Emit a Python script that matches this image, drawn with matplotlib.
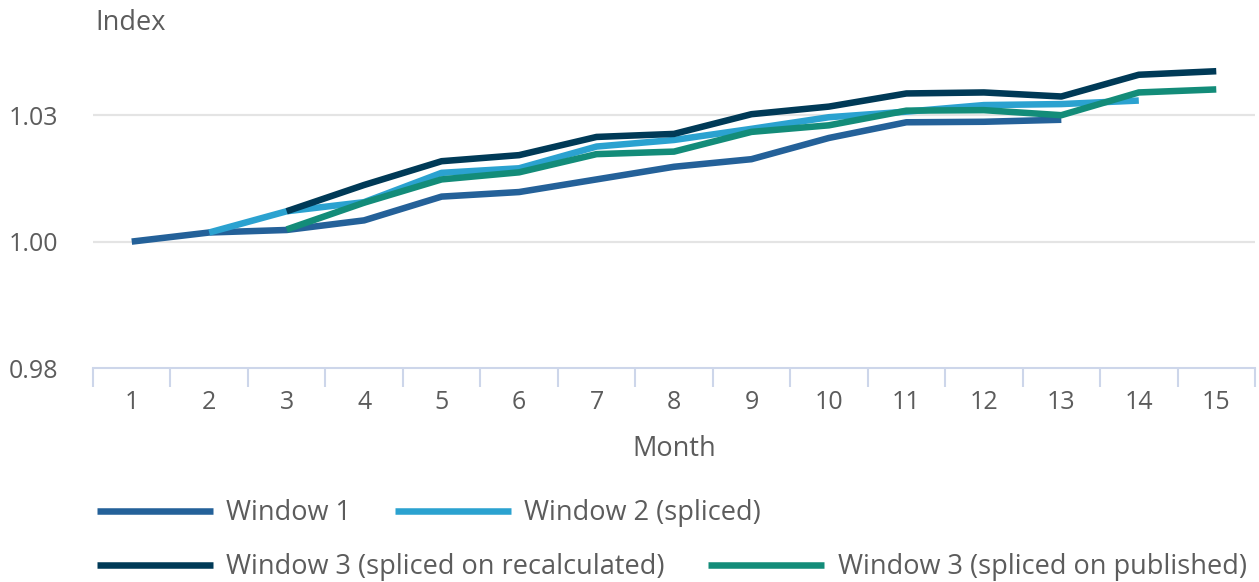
import numpy as np
import matplotlib
matplotlib.use('Agg')
import matplotlib.pyplot as plt

nan = np.nan

# data
months = list(range(1, 16))
month_labels = [str(m) for m in months]
window1 = [1.0000, 1.0018, 1.0023, 1.0042, 1.0089, 1.0098, 1.0123, 1.0148, 1.0163, 1.0205, 1.0236, 1.0237, 1.0241, nan, nan]
window2 = [nan, 1.0018, 1.0060, 1.0078, 1.0136, 1.0145, 1.0188, 1.0201, 1.0223, 1.0246, 1.0257, 1.0270, 1.0272, 1.0279, nan]
window3_recalc = [nan, nan, 1.0060, 1.0112, 1.0159, 1.0171, 1.0207, 1.0213, 1.0252, 1.0267, 1.0293, 1.0295, 1.0287, 1.0330, 1.0337]
window3_pub = [nan, nan, 1.0024, 1.0077, 1.0123, 1.0137, 1.0173, 1.0178, 1.0217, 1.0230, 1.0259, 1.0260, 1.0250, 1.0295, 1.0301]
series_names = ['Window 1', 'Window 2 (spliced)', 'Window 3 (spliced on recalculated)', 'Window 3 (spliced on published)']
y_ticks = [0.975, 1.0, 1.025]
y_tick_labels = ['0.98', '1.00', '1.03']

colors = ['#246199', '#2ba2d0', '#003a57', '#138c79']
text_color = '#5c5c5c'
axis_color = '#cdd6ea'

plt.rcParams['font.family'] = ['Open Sans', 'DejaVu Sans']
plt.rcParams['font.size'] = 18

fig = plt.figure(figsize=(12.59, 5.82), dpi=100)
ax = fig.add_axes([93/1259, 1-368/582, (1255-93)/1259, (368-52)/582])

lines = []
for vals, c, name in zip([window1, window2, window3_recalc, window3_pub], colors, series_names):
    ln, = ax.plot(months, vals, color=c, lw=4.7, solid_capstyle='butt', label=name)
    lines.append(ln)

ax.set_xlim(0.5, 15.5)
ax.set_ylim(0.975, 1.0375)

ax.set_yticks(y_ticks)
ax.set_yticklabels(y_tick_labels)
ax.tick_params(axis='y', length=0, pad=25, labelcolor=text_color, labelsize=18)
for yv in y_ticks[1:]:
    ax.axhline(yv, color='#e4e4e4', lw=1.6, zorder=0)

ax.set_xticks(months)
ax.set_xticklabels(month_labels)
ax.set_xticks(np.arange(0.5, 16, 1), minor=True)
ax.tick_params(axis='x', which='major', length=0, pad=16, labelcolor=text_color, labelsize=18)
ax.tick_params(axis='x', which='minor', length=14, width=1.5, color=axis_color, direction='out')

for s in ['top', 'right', 'left']:
    ax.spines[s].set_visible(False)
ax.spines['bottom'].set_color(axis_color)
ax.spines['bottom'].set_linewidth(1.5)

ax.set_xlabel('Month', color=text_color, fontsize=19.5, va='center')
ax.xaxis.set_label_coords(0.5, -81/316)

fig.text(95/1259, 1-23/582, 'Index', color=text_color, fontsize=19.5, ha='left', va='center')

leg_kw = dict(loc='center left', ncol=2, frameon=False, borderpad=0, borderaxespad=0,
              handlelength=4.28, handletextpad=0.5, columnspacing=1.6, fontsize=19.5,
              labelcolor=text_color, bbox_transform=fig.transFigure)
leg1 = fig.legend(lines[:2], series_names[:2], bbox_to_anchor=(97/1259, 1-513/582), **leg_kw)
leg2 = fig.legend(lines[2:], series_names[2:], bbox_to_anchor=(97/1259, 1-567/582), **leg_kw)

fig.savefig('out.png', dpi=100, facecolor='white')
